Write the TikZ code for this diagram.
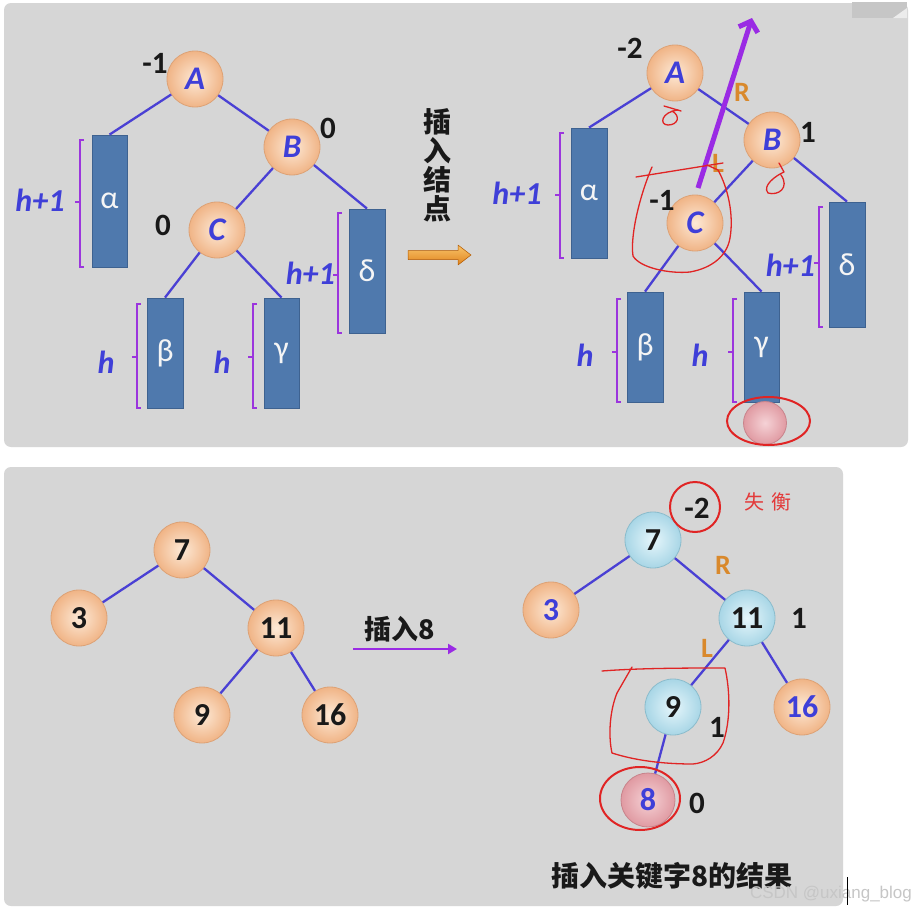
\documentclass[tikz,border=0pt]{standalone}
\usepackage{fontspec}
\usetikzlibrary{arrows.meta,shapes.arrows,shapes.geometric}
\newfontfamily\calf{Carlito}
\newfontfamily\cjk{Noto Sans CJK SC}
\newfontfamily\wmf{Liberation Sans}
\definecolor{panel}{HTML}{D6D6D6}
\definecolor{edgeblue}{HTML}{4A40D4}
\definecolor{brkc}{HTML}{9B35DD}
\definecolor{lblblue}{HTML}{3F3FD8}
\definecolor{rectf}{HTML}{4F79AD}
\definecolor{rectd}{HTML}{3E6290}
\definecolor{orng}{HTML}{D9892C}
\definecolor{scrib}{HTML}{E02424}
\definecolor{purp}{HTML}{9A2BE4}
\definecolor{peachin}{HTML}{FDE9D6}
\definecolor{peachout}{HTML}{F0B486}
\definecolor{peachd}{HTML}{DDA276}
\definecolor{bluein}{HTML}{E6F6FB}
\definecolor{blueout}{HTML}{A8D6E6}
\definecolor{blued}{HTML}{8BBCCC}
\definecolor{pinkin}{HTML}{F5D2D6}
\definecolor{pinkout}{HTML}{E09AA2}
\definecolor{pinkd}{HTML}{C8838B}
\definecolor{orlight}{HTML}{F9C46A}
\definecolor{ordark}{HTML}{E0841E}
\newcommand\hbrk[4]{\draw[brk] ({#1+4},#2) -- (#1,#2) -- (#1,#3) -- ({#1+4},#3); \draw[brk] (#1,#4) -- ({#1-5},#4);}
\begin{document}
\begin{tikzpicture}[x=1pt,y=-1pt,
  peach/.style={circle, minimum size=56pt, inner sep=0pt, draw=peachd, line width=0.8pt, inner color=peachin, outer color=peachout},
  bluec/.style={circle, minimum size=56pt, inner sep=0pt, draw=blued, line width=0.8pt, inner color=bluein, outer color=blueout},
  pinkc/.style={circle, minimum size=54pt, inner sep=0pt, draw=pinkd, line width=0.8pt, inner color=pinkin, outer color=pinkout},
  let/.style={font=\calf\bfseries\itshape\fontsize{33}{33}\selectfont, text=lblblue},
  numin/.style={font=\calf\bfseries\fontsize{32}{32}\selectfont, text=black!90},
  numinb/.style={font=\calf\bfseries\fontsize{32}{32}\selectfont, text=lblblue},
  num/.style={font=\calf\bfseries\fontsize{31}{31}\selectfont, text=black!90, inner sep=0pt},
  hlbl/.style={font=\calf\bfseries\itshape\fontsize{32}{32}\selectfont, text=lblblue, inner sep=0pt},
  rl/.style={font=\calf\bfseries\fontsize{28}{28}\selectfont, text=orng, inner sep=0pt},
  rbox/.style={rectangle, draw=rectd, fill=rectf, line width=0.8pt, inner sep=0pt, text=white!92!gray, font=\calf\fontsize{32}{32}\selectfont},
  edge/.style={draw=edgeblue, line width=2.3pt},
  brk/.style={draw=brkc, line width=1.8pt},
  scribble/.style={draw=scrib, line width=1.3pt, line cap=round, line join=round},
  cjkb/.style={font=\cjk\bfseries\fontsize{27}{29}\selectfont, text=black!90, inner sep=0pt}
]
\useasboundingbox (0,0) rectangle (914,910);
\fill[white] (0,0) rectangle (914,910);
% panels
\fill[panel, rounded corners=7pt] (4,3) rectangle (908,447);
\fill[panel, rounded corners=7pt] (4,467) rectangle (843,906);
\fill[gray!45] (852,2) rectangle (907,18);
\fill[white!85!gray] (893,18) -- (907,8) -- (907,18) -- cycle;

% ===== top-left tree =====
\node[rbox, minimum width=35pt, minimum height=132pt] (la) at (109.5,201) {α};
\node[rbox, minimum width=36pt, minimum height=124pt] (ld) at (367,271) {δ};
\node[rbox, minimum width=36pt, minimum height=110pt] (lb) at (165,353) {β};
\node[rbox, minimum width=35pt, minimum height=110pt] (lg) at (281.5,353) {γ};
\node[peach] (lA) at (195,79) {};
\node[peach] (lB) at (292,147) {};
\node[peach] (lC) at (217,230) {};
\node[let] (lAt) at (lA) {A};
\node[let] (lBt) at (lB) {B};
\node[let] (lCt) at (lC) {C};
\draw[edge] (lA) -- (la.north);
\draw[edge] (lA) -- (lB);
\draw[edge] (lB) -- (lC);
\draw[edge] (lB) -- (ld.north);
\draw[edge] (lC) -- (lb.north);
\draw[edge] (lC) -- (lg.north);
\node[num] (lAn) at (155,63) {-1};
\node[num] (lBn) at (328,128) {0};
\node[num] (lCn) at (163,225) {0};
\hbrk{80}{140}{267}{202}
\hbrk{338}{213}{333}{275}
\hbrk{137}{304}{408}{357}
\hbrk{253}{304}{408}{357}
\node[hlbl] (lh1) at (40,200) {h+1};
\node[hlbl, anchor=east] (lh2) at (335,273) {h+1};
\node[hlbl] (lh3) at (106,362) {h};
\node[hlbl] (lh4) at (222,362) {h};

% middle text and arrow
\node[cjkb, align=center, font=\cjk\bfseries\fontsize{28}{29}\selectfont] (ins) at (437,165) {插\\入\\结\\点};
\path[top color=orlight, bottom color=ordark, draw=orange!70!black, line width=0.5pt, line join=round]
  (408,250.5) -- (458,250.5) -- (458,245) -- (471,255) -- (458,265) -- (458,259.5) -- (408,259.5) -- cycle;

% ===== top-right tree =====
\node[rbox, minimum width=36pt, minimum height=130pt] (ra) at (589,193) {α};
\node[rbox, minimum width=36pt, minimum height=125pt] (rd) at (847,264.5) {δ};
\node[rbox, minimum width=36pt, minimum height=110pt] (rb) at (645,347) {β};
\node[rbox, minimum width=35pt, minimum height=110pt] (rg) at (761.5,347) {γ};
\node[peach] (rA) at (675,73) {};
\node[peach] (rB) at (772,140) {};
\node[peach] (rC) at (695,223) {};
\node[let] (rAt) at (rA) {A};
\node[let] (rBt) at (rB) {B};
\node[let] (rCt) at (rC) {C};
\draw[edge] (rA) -- (ra.north);
\draw[edge] (rA) -- (rB);
\draw[edge] (rB) -- (rC);
\draw[edge] (rB) -- (rd.north);
\draw[edge] (rC) -- (rb.north);
\draw[edge] (rC) -- (rg.north);
\node[num] (rAn) at (630,48) {-2};
\node[num] (rBn) at (808,132) {1};
\node[num] (rCn) at (662,200) {-1};
\hbrk{560}{133}{258}{195}
\hbrk{819}{207}{327}{263}
\hbrk{617}{299}{402}{352}
\hbrk{733}{299}{402}{352}
\node[hlbl] (rh1) at (517,193) {h+1};
\node[hlbl, anchor=east] (rh2) at (815,265) {h+1};
\node[hlbl] (rh3) at (585,355) {h};
\node[hlbl] (rh4) at (700,355) {h};
\node[rl] (rR) at (742,92) {R};
\node[rl] (rL) at (718,163) {L};
\node[pinkc, minimum size=43pt] (rnew) at (765,423) {};
\node[ellipse, draw=scrib, line width=2pt, minimum width=83pt, minimum height=48pt, inner sep=0pt] (rnewc) at (768.5,421) {};
% purple arrow
\coordinate (ps) at (698,188);
\coordinate (pe) at (752,18);
\draw[purp, line width=5pt, -{Straight Barb[length=9pt, width=20pt]}] (ps) -- (pe);
% red scribbles
\draw[scribble] (636,177) -- (723,163);
\draw[scribble] (652,167) .. controls (640,195) and (630,235) .. (633,256) .. controls (640,268) and (670,274) .. (690,272) .. controls (712,268) and (727,256) .. (730,238) .. controls (734,215) and (728,188) .. (718,170) -- (707,165);
\draw[scribble] (664,106) -- (681,111);
\draw[scribble] (678,110) .. controls (661,112) and (659,125) .. (668,125) .. controls (678,125) and (681,116) .. (672,111);
\draw[scribble] (779,163) -- (784,172) .. controls (775,176) and (762,186) .. (768,193) .. controls (778,196) and (790,188) .. (781,175);

% ===== bottom-left tree =====
\node[peach] (b7) at (182,550) {};
\node[peach] (b3) at (79,618) {};
\node[peach] (b11) at (276,628) {};
\node[peach] (b9) at (202,715) {};
\node[peach] (b16) at (330,715) {};
\node[numin] (b7t) at (b7) {7};
\node[numin] (b3t) at (b3) {3};
\node[numin] (b11t) at (b11) {11};
\node[numin] (b9t) at (b9) {9};
\node[numin] (b16t) at (b16) {16};
\draw[edge] (b7) -- (b3);
\draw[edge] (b7) -- (b11);
\draw[edge] (b11) -- (b9);
\draw[edge] (b11) -- (b16);
\node[cjkb] (ins8) at (400,629) {插入8};
\coordinate (a8s) at (353,649);
\coordinate (a8e) at (457,649);
\draw[purp, line width=2.6pt, -{Triangle[length=9pt, width=10pt]}] (a8s) -- (a8e);

% ===== bottom-right tree =====
\node[bluec] (c7) at (653,540) {};
\node[peach] (c3) at (551,610) {};
\node[bluec] (c11) at (747,618) {};
\node[bluec] (c9) at (673,707) {};
\node[peach] (c16) at (802,707) {};
\node[pinkc] (c8) at (648,800) {};
\node[numin] (c7t) at (c7) {7};
\node[numinb] (c3t) at (c3) {3};
\node[numin] (c11t) at (c11) {11};
\node[numin] (c9t) at (c9) {9};
\node[numinb] (c16t) at (c16) {16};
\node[numinb] (c8t) at (c8) {8};
\draw[edge] (c7) -- (c3);
\draw[edge] (c7) -- (c11);
\draw[edge] (c11) -- (c9);
\draw[edge] (c11) -- (c16);
\draw[edge] (c9) -- (c8);
\node[num] (c7n) at (697,508) {-2};
\node[circle, draw=scrib, line width=2pt, minimum size=50pt, inner sep=0pt] (c7nc) at (695,507) {};
\node[font=\cjk\fontsize{20}{20}\selectfont, text=scrib!90!white, inner sep=0pt] (shiheng) at (768,502) {失\hspace{7pt}衡};
\node[rl] (cR) at (723,565) {R};
\node[rl] (cL) at (707,648) {L};
\node[num] (c11n) at (799,618) {1};
\node[num] (c9n) at (717,727) {1};
\node[num] (c8n) at (697,803) {0};
\node[ellipse, draw=scrib, line width=2pt, minimum width=80pt, minimum height=63pt, inner sep=0pt] (c8c) at (640,798.5) {};
\draw[scribble] (602,671) .. controls (640,668) and (690,668) .. (725,668) .. controls (730,690) and (731,720) .. (723,743) .. controls (717,756) and (705,763) .. (693,764) .. controls (670,764) and (640,762) .. (612,753) .. controls (608,735) and (610,710) .. (617,693) -- (632,667);
\node[cjkb, font=\cjk\bfseries\fontsize{28}{28}\selectfont] (res) at (672,876) {插入关键字8的结果};
\node[font=\wmf\fontsize{17}{17}\selectfont, text=gray!45, inner sep=0pt] (wm) at (831,894) {CSDN @uxiang\_blog};
\draw[black, line width=0.8pt] (847,877) -- (847,905);
\end{tikzpicture}
\end{document}
